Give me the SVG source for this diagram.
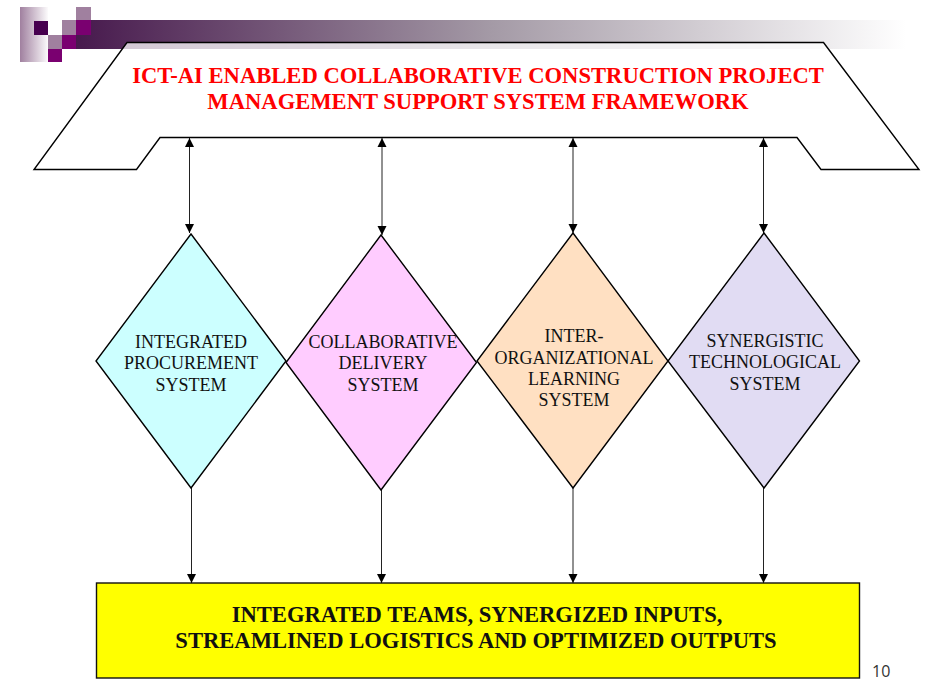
<svg xmlns="http://www.w3.org/2000/svg" width="928" height="700" viewBox="0 0 928 700">
<style>
.d{stroke:#000;stroke-width:1.400}
.t{font-family:"Liberation Serif",serif;font-size:18px;fill:#111;text-anchor:middle}
.h{font-family:"Liberation Serif",serif;font-size:22.600px;font-weight:bold;text-anchor:middle}
.c{stroke:#222;stroke-width:1;fill:none;marker-end:url(#a)}
.b{marker-start:url(#s)}
</style>
<defs>
<linearGradient id="bar" x1="0" x2="1" y1="0" y2="0"><stop offset="0" stop-color="#47194d"/><stop offset="0.5" stop-color="#a49aa6"/><stop offset="1" stop-color="#ffffff"/></linearGradient>
<linearGradient id="fade" x1="0" x2="1" y1="0" y2="0"><stop offset="0" stop-color="#a0809f"/><stop offset="1" stop-color="#ffffff"/></linearGradient>
<marker id="a" markerUnits="userSpaceOnUse" markerWidth="10" markerHeight="10" refX="9" refY="4.500" orient="auto"><path d="M0 0L9 4.500L0 9Z" fill="#000"/></marker>
<marker id="s" markerUnits="userSpaceOnUse" markerWidth="10" markerHeight="10" refX="0" refY="4.500" orient="auto"><path d="M9 0L0 4.500L9 9Z" fill="#000"/></marker>
</defs>
<rect width="928" height="700" fill="#fff"/>
<g id="banner">
<rect x="76" y="20" width="830" height="29" fill="url(#bar)"/>
<rect x="20" y="7" width="29" height="55" fill="url(#fade)"/>
<rect x="34" y="21" width="15" height="14" fill="#47004f"/>
<rect x="48" y="7" width="28" height="28" fill="#fff"/>
<rect x="48" y="35" width="14" height="14" fill="#a0809f"/>
<rect x="48" y="49" width="14" height="13" fill="#7a0070"/>
<rect x="62" y="20" width="14" height="15" fill="#a0809f"/>
<rect x="62" y="35" width="14" height="14" fill="#7a0070"/>
<rect x="76" y="7" width="15" height="13" fill="#a0809f"/>
<rect x="76" y="20" width="15" height="15" fill="#7a0070"/>
</g>
<g id="header">
<path d="M127 42.500H823.500L919 169.500H821L797 137.500H160L136.500 169.500H34Z" fill="#fff" fill-opacity="0.75" stroke="#000" stroke-width="1.400"/>
<text class="h" x="478" y="83" fill="#f00">ICT-AI ENABLED COLLABORATIVE CONSTRUCTION PROJECT</text>
<text class="h" x="478" y="109" fill="#f00">MANAGEMENT SUPPORT SYSTEM FRAMEWORK</text>
</g>
<g id="connectors">
<path class="c b" d="M189.500 138V233"/>
<path class="c b" d="M382 138V235"/>
<path class="c b" d="M573 138V233"/>
<path class="c b" d="M763.500 138V233"/>
<path class="c" d="M191.500 488V583"/>
<path class="c" d="M381.500 490V583"/>
<path class="c" d="M573 488V583"/>
<path class="c" d="M763.500 488V583"/>
</g>
<g id="node1"><path class="d" d="M191 234L286 361L191 488L96 361Z" fill="#ccffff"/>
<text class="t" x="191" y="348">INTEGRATED</text><text class="t" x="191" y="369">PROCUREMENT</text><text class="t" x="191" y="391">SYSTEM</text></g>
<g id="node2"><path class="d" d="M381 235L476.500 362.500L381 490L286 362.500Z" fill="#ffccff"/>
<text class="t" x="383" y="348">COLLABORATIVE</text><text class="t" x="383" y="369">DELIVERY</text><text class="t" x="383" y="391">SYSTEM</text></g>
<g id="node3"><path class="d" d="M573 233L668 361L573 488L477 361Z" fill="#ffe0c2"/>
<text class="t" x="574" y="342">INTER-</text><text class="t" x="574" y="364">ORGANIZATIONAL</text><text class="t" x="574" y="385">LEARNING</text><text class="t" x="574" y="406">SYSTEM</text></g>
<g id="node4"><path class="d" d="M764 233L859.500 361L764 488L668 361Z" fill="#e1dcf3"/>
<text class="t" x="765" y="347">SYNERGISTIC</text><text class="t" x="765" y="368">TECHNOLOGICAL</text><text class="t" x="765" y="390">SYSTEM</text></g>
<g id="output">
<rect x="96.500" y="583" width="763" height="95" fill="#ff0" stroke="#111" stroke-width="1.400"/>
<text class="h" x="477" y="622" fill="#111">INTEGRATED TEAMS, SYNERGIZED INPUTS,</text>
<text class="h" x="476" y="648" fill="#111">STREAMLINED LOGISTICS AND OPTIMIZED OUTPUTS</text>
</g>
<text x="872" y="677" font-family="Open Sans, DejaVu Sans, sans-serif" font-size="16" fill="#333">10</text>
</svg>
